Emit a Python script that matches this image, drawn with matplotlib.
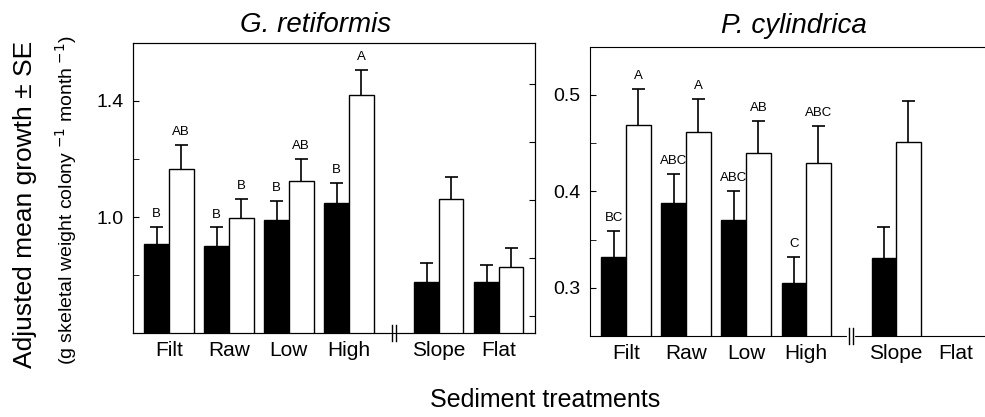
# -*- coding: utf-8 -*-
"""
adjusted mean growth of two coral species under sediment treatments
"""

import matplotlib
matplotlib.use('Agg')
import matplotlib.pyplot as plt
import matplotlib.transforms as mtransforms
import numpy as np

plt.rcParams['font.family'] = ['Liberation Sans', 'DejaVu Sans']

categories = ['Filt', 'Raw', 'Low', 'High', 'Slope', 'Flat']
group_pos = [0, 1, 2, 3, 4.5, 5.5]

# G. retiformis
g_black = [0.907, 0.901, 0.990, 1.047, 0.777, 0.775]
g_black_se = [0.060, 0.063, 0.065, 0.070, 0.065, 0.059]
g_white = [1.164, 0.995, 1.125, 1.422, 1.061, 0.829]
g_white_se = [0.083, 0.068, 0.075, 0.085, 0.078, 0.063]
g_black_lab = ['B', 'B', 'B', 'B', '', '']
g_white_lab = ['AB', 'B', 'AB', 'A', '', '']

# P. cylindrica (no Flat data)
p_black = [0.332, 0.388, 0.370, 0.305, 0.331]
p_black_se = [0.027, 0.030, 0.030, 0.027, 0.032]
p_white = [0.469, 0.462, 0.440, 0.429, 0.451]
p_white_se = [0.037, 0.034, 0.033, 0.039, 0.043]
p_black_lab = ['BC', 'ABC', 'ABC', 'C', '']
p_white_lab = ['A', 'A', 'AB', 'ABC', '']

W = 0.41
CAP = 0.11


def draw_panel(ax, black, bse, white, wse, blab, wlab):
    n = len(black)
    x = np.array(group_pos[:n])
    xb = x - W / 2
    xw = x + W / 2
    ax.bar(xb, black, W, color='black', edgecolor='black', linewidth=1, zorder=2)
    ax.bar(xw, white, W, color='white', edgecolor='black', linewidth=1, zorder=2)
    for xs, ys, es in [(xb, black, bse), (xw, white, wse)]:
        tops = np.array(ys) + np.array(es)
        # upper error bar only, cap at the top
        ax.vlines(xs, ys, tops, color='black', lw=1.2, zorder=3)
        ax.hlines(tops, xs - CAP, xs + CAP, color='black', lw=1.2, zorder=3)
    for xs, ys, es, labs in [(xb, black, bse, blab), (xw, white, wse, wlab)]:
        for xi, yi, ei, lab in zip(xs, ys, es, labs):
            if lab:
                ax.annotate(lab, (xi, yi + ei), xytext=(0, 5),
                            textcoords='offset points', ha='center',
                            va='bottom', fontsize=9.5)
    ax.set_xticks(group_pos)
    ax.set_xticklabels(categories, fontsize=15)
    ax.tick_params(axis='x', length=0, pad=6)
    ax.tick_params(axis='y', direction='in', length=4, labelsize=14, pad=7)
    ax.tick_params(axis='y', which='minor', direction='in', length=4)

    # axis break on the bottom spine
    tr = mtransforms.blended_transform_factory(ax.transData, ax.transAxes)
    xbrk = 3.75
    ax.plot([xbrk - 0.03, xbrk + 0.03], [0, 0], color='white', lw=3,
            transform=tr, clip_on=False, zorder=5)
    for dx in (-0.03, 0.03):
        ax.plot([xbrk + dx, xbrk + dx], [-0.028, 0.028], color='black', lw=1,
                transform=tr, clip_on=False, zorder=6)


fig = plt.figure(figsize=(9.85, 4.17), dpi=100)

ax1 = fig.add_axes([0.135, 0.2014, 0.408, 0.6955])
draw_panel(ax1, g_black, g_black_se, g_white, g_white_se, g_black_lab, g_white_lab)
ax1.set_xlim(-0.6, 6.1)
ax1.set_ylim(0.6, 1.6)
ax1.set_yticks([1.0, 1.4])
ax1.set_yticklabels(['1.0', '1.4'])
ax1.set_yticks([0.8, 1.2], minor=True)
ax1r = ax1.twinx()
ax1r.set_ylim(0.6, 1.6)
ax1r.set_yticks([0.66, 0.86, 1.06, 1.26, 1.46])
ax1r.set_yticklabels([])
ax1r.tick_params(axis='y', direction='in', length=4)

ax2 = fig.add_axes([0.599, 0.194, 0.401, 0.694])
draw_panel(ax2, p_black, p_black_se, p_white, p_white_se, p_black_lab, p_white_lab)
ax2.set_xlim(-0.6, 5.98)
ax2.set_ylim(0.25, 0.55)
ax2.set_yticks([0.3, 0.4, 0.5])
ax2.set_yticklabels(['0.3', '0.4', '0.5'])
ax2.set_yticks([0.35, 0.45], minor=True)
ax2.spines['right'].set_visible(False)

fig.text(0.32, 0.94, 'G. retiformis', style='italic', fontsize=20,
         ha='center', va='center')
fig.text(0.806, 0.938, 'P. cylindrica', style='italic', fontsize=20,
         ha='center', va='center')

fig.text(0.025, 0.511, 'Adjusted mean growth \u00b1 SE', rotation=90,
         fontsize=19, ha='center', va='center')
fig.text(0.067, 0.52,
         r'(g skeletal weight colony$^{\ \mathrm{-1}}$ month$^{\ \mathrm{-1}}$)',
         rotation=90, fontsize=14, ha='center', va='center')
fig.text(0.553, 0.04, 'Sediment treatments', fontsize=18,
         ha='center', va='center')

fig.savefig('out.png', dpi=100)
